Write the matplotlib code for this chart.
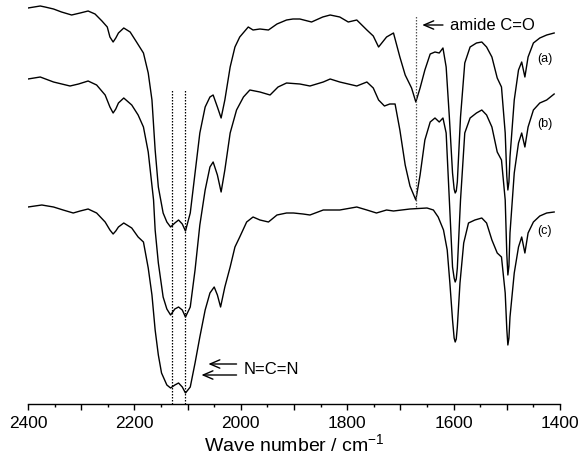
import matplotlib
matplotlib.use("Agg")
import matplotlib.pyplot as plt
from matplotlib.ticker import MultipleLocator, FuncFormatter

plt.rcParams['font.family'] = ['Liberation Sans', 'DejaVu Sans']
plt.rcParams['mathtext.fontset'] = 'custom'
plt.rcParams['mathtext.rm'] = 'Liberation Sans'
plt.rcParams['mathtext.it'] = 'Liberation Sans:italic'

# spectrum (a) - wavenumber / cm-1 and offset transmittance (a.u.)
wn_a = [2400, 2377, 2368, 2352, 2337, 2318, 2302, 2287, 2274, 2261, 2251, 2246, 2240, 2235, 2230,
        2220, 2208, 2196, 2183, 2174, 2167, 2161, 2155, 2146, 2139, 2132, 2124, 2117, 2110,
        2104, 2095, 2086, 2077, 2067, 2058, 2052, 2044, 2037, 2030, 2020, 2011, 2002, 1986,
        1977, 1964, 1948, 1932, 1914, 1902, 1889, 1867, 1846, 1832, 1814, 1798, 1782, 1763,
        1751, 1741, 1726, 1713, 1701, 1691, 1679, 1671, 1663, 1654, 1644, 1635, 1627, 1620,
        1614, 1608, 1602, 1599, 1597, 1595, 1593, 1587, 1579, 1569, 1557, 1547, 1538, 1528, 1518, 1510,
        1503, 1500, 1498, 1496, 1494, 1486, 1478, 1472, 1466, 1460, 1450, 1438, 1425, 1411]
t_a = [396, 398, 397, 395, 392, 389, 391, 393, 390, 383, 377, 367, 362, 366, 371,
       376, 372, 362, 351, 331, 304, 254, 217, 191, 182, 177, 181, 184, 180,
       173, 191, 231, 271, 297, 307, 309, 297, 286, 304, 337, 357, 367, 377,
       374, 375, 374, 380, 384, 385, 385, 382, 387, 389, 387, 382, 384, 374,
       368, 357, 367, 371, 347, 329, 316, 302, 316, 334, 350, 352, 351, 356,
       337, 287, 231, 215, 211, 213, 222, 287, 341, 357, 361, 362, 357, 347, 326, 317,
       271, 228, 214, 222, 247, 304, 334, 342, 327, 347, 361, 366, 369, 371]

# spectrum (b)
wn_b = [2400, 2377, 2352, 2321, 2305, 2287, 2271, 2255, 2246, 2240, 2235, 2230, 2220, 2205, 2193,
        2183, 2174, 2164, 2161, 2155, 2146, 2139, 2132, 2124, 2117, 2110, 2104, 2095, 2086,
        2077, 2067, 2058, 2052, 2044, 2037, 2030, 2020, 2008, 1995, 1983, 1964, 1945, 1930,
        1914, 1889, 1870, 1845, 1832, 1814, 1782, 1763, 1751, 1741, 1730, 1720, 1710, 1701,
        1691, 1682, 1671, 1663, 1654, 1644, 1635, 1627, 1620, 1614, 1608, 1602, 1599, 1597, 1595, 1593,
        1587, 1579, 1569, 1557, 1547, 1538, 1528, 1518, 1510, 1503, 1500, 1498, 1496, 1494, 1486, 1478,
        1472, 1466, 1460, 1450, 1438, 1425, 1411]
t_b = [325, 327, 322, 318, 320, 323, 319, 309, 297, 291, 295, 301, 306, 299, 289,
       277, 252, 204, 174, 141, 107, 95, 89, 95, 97, 94, 87, 97, 134,
       179, 214, 237, 242, 229, 212, 234, 271, 294, 307, 314, 312, 309, 317,
       321, 320, 318, 322, 325, 322, 318, 322, 316, 304, 298, 300, 300, 274,
       239, 218, 204, 229, 264, 282, 286, 282, 286, 271, 204, 137, 126, 122, 125, 136,
       204, 271, 286, 291, 294, 289, 277, 252, 244, 204, 150, 129, 138, 171, 231, 261,
       271, 257, 277, 294, 301, 304, 310]

# spectrum (c)
wn_c = [2400, 2374, 2352, 2334, 2315, 2302, 2287, 2271, 2255, 2246, 2240, 2235, 2230, 2220, 2205,
        2193, 2183, 2174, 2167, 2161, 2155, 2149, 2139, 2132, 2124, 2117, 2110, 2104, 2095,
        2086, 2077, 2067, 2058, 2050, 2044, 2038, 2030, 2020, 2011, 2002, 1989, 1977, 1964,
        1948, 1932, 1914, 1901, 1883, 1870, 1845, 1814, 1782, 1763, 1745, 1726, 1713, 1682,
        1650, 1638, 1629, 1619, 1612, 1607, 1602, 1599, 1597, 1595, 1593, 1588, 1581, 1572, 1560, 1547,
        1538, 1528, 1518, 1510, 1503, 1500, 1498, 1496, 1494, 1486, 1478, 1472, 1466, 1460, 1450, 1438,
        1425, 1411]
t_c = [197, 199, 197, 194, 191, 193, 195, 191, 182, 174, 170, 173, 177, 181, 176,
       167, 162, 136, 109, 74, 49, 31, 19, 16, 19, 21, 17, 11, 17,
       41, 67, 94, 111, 117, 109, 97, 117, 137, 157, 167, 182, 187, 184,
       182, 189, 191, 191, 190, 189, 194, 194, 197, 194, 191, 194, 193, 195,
       196, 194, 187, 174, 154, 121, 84, 66, 62, 65, 77, 121, 161, 181, 184, 186,
       181, 164, 151, 147, 111, 75, 59, 66, 87, 131, 157, 167, 151, 171, 182, 188,
       191, 192]

spectra = [(wn_a, t_a), (wn_b, t_b), (wn_c, t_c)]
curve_labels = ['(a)', '(b)', '(c)']
label_pos = [(1443, 345), (1443, 280), (1443, 173)]

ncn_peaks = [2130, 2104]
amide_peak = 1671

fig = plt.figure(figsize=(5.86, 4.62), dpi=100, facecolor='w')
ax = fig.add_axes([28 / 586, 58 / 462, 532 / 586, 404 / 462])

for wn, t in spectra:
    ax.plot(wn, t, color='black', lw=1.0, solid_joinstyle='round')

for (x, y), lab in zip(label_pos, curve_labels):
    ax.text(x, y, lab, fontsize=9, ha='left', va='center')

# marker lines
for p in ncn_peaks:
    ax.plot([p, p], [0, 315], color='black', lw=0.9, ls=(0, (1.2, 1.2)))
ax.plot([amide_peak, amide_peak], [197, 389], color='#555555', lw=0.9, ls=(0, (1.2, 1.2)))

arrow = dict(arrowstyle='->, head_length=0.7, head_width=0.3', color='black', lw=1.0,
             shrinkA=0, shrinkB=0)
ax.annotate('', xy=(1659, 379), xytext=(1620, 379), arrowprops=arrow)
ax.text(1607, 379, 'amide C=O', fontsize=12, ha='left', va='center')

ax.annotate('', xy=(2061, 40), xytext=(2008, 40), arrowprops=arrow)
ax.annotate('', xy=(2074, 29), xytext=(2008, 29), arrowprops=arrow)
ax.text(1995, 34, 'N=C=N', fontsize=12, ha='left', va='center')

ax.set_xlim(2400, 1400)
ax.set_ylim(0, 404)

for s in ['top', 'left', 'right']:
    ax.spines[s].set_visible(False)
ax.spines['bottom'].set_linewidth(1.0)
ax.set_yticks([])

ax.xaxis.set_major_locator(MultipleLocator(100))
ax.xaxis.set_minor_locator(MultipleLocator(50))
ax.xaxis.set_major_formatter(FuncFormatter(lambda v, pos: '%d' % v if int(round(v)) % 200 == 0 else ''))
ax.tick_params(axis='x', which='major', direction='out', length=4.5, width=1.0, labelsize=12.5, pad=4)
ax.tick_params(axis='x', which='minor', direction='out', length=2.5, width=1.0)
ax.set_xlabel('Wave number / cm$^{-1}$', fontsize=14, labelpad=2)

plt.savefig('out.png', dpi=100)
